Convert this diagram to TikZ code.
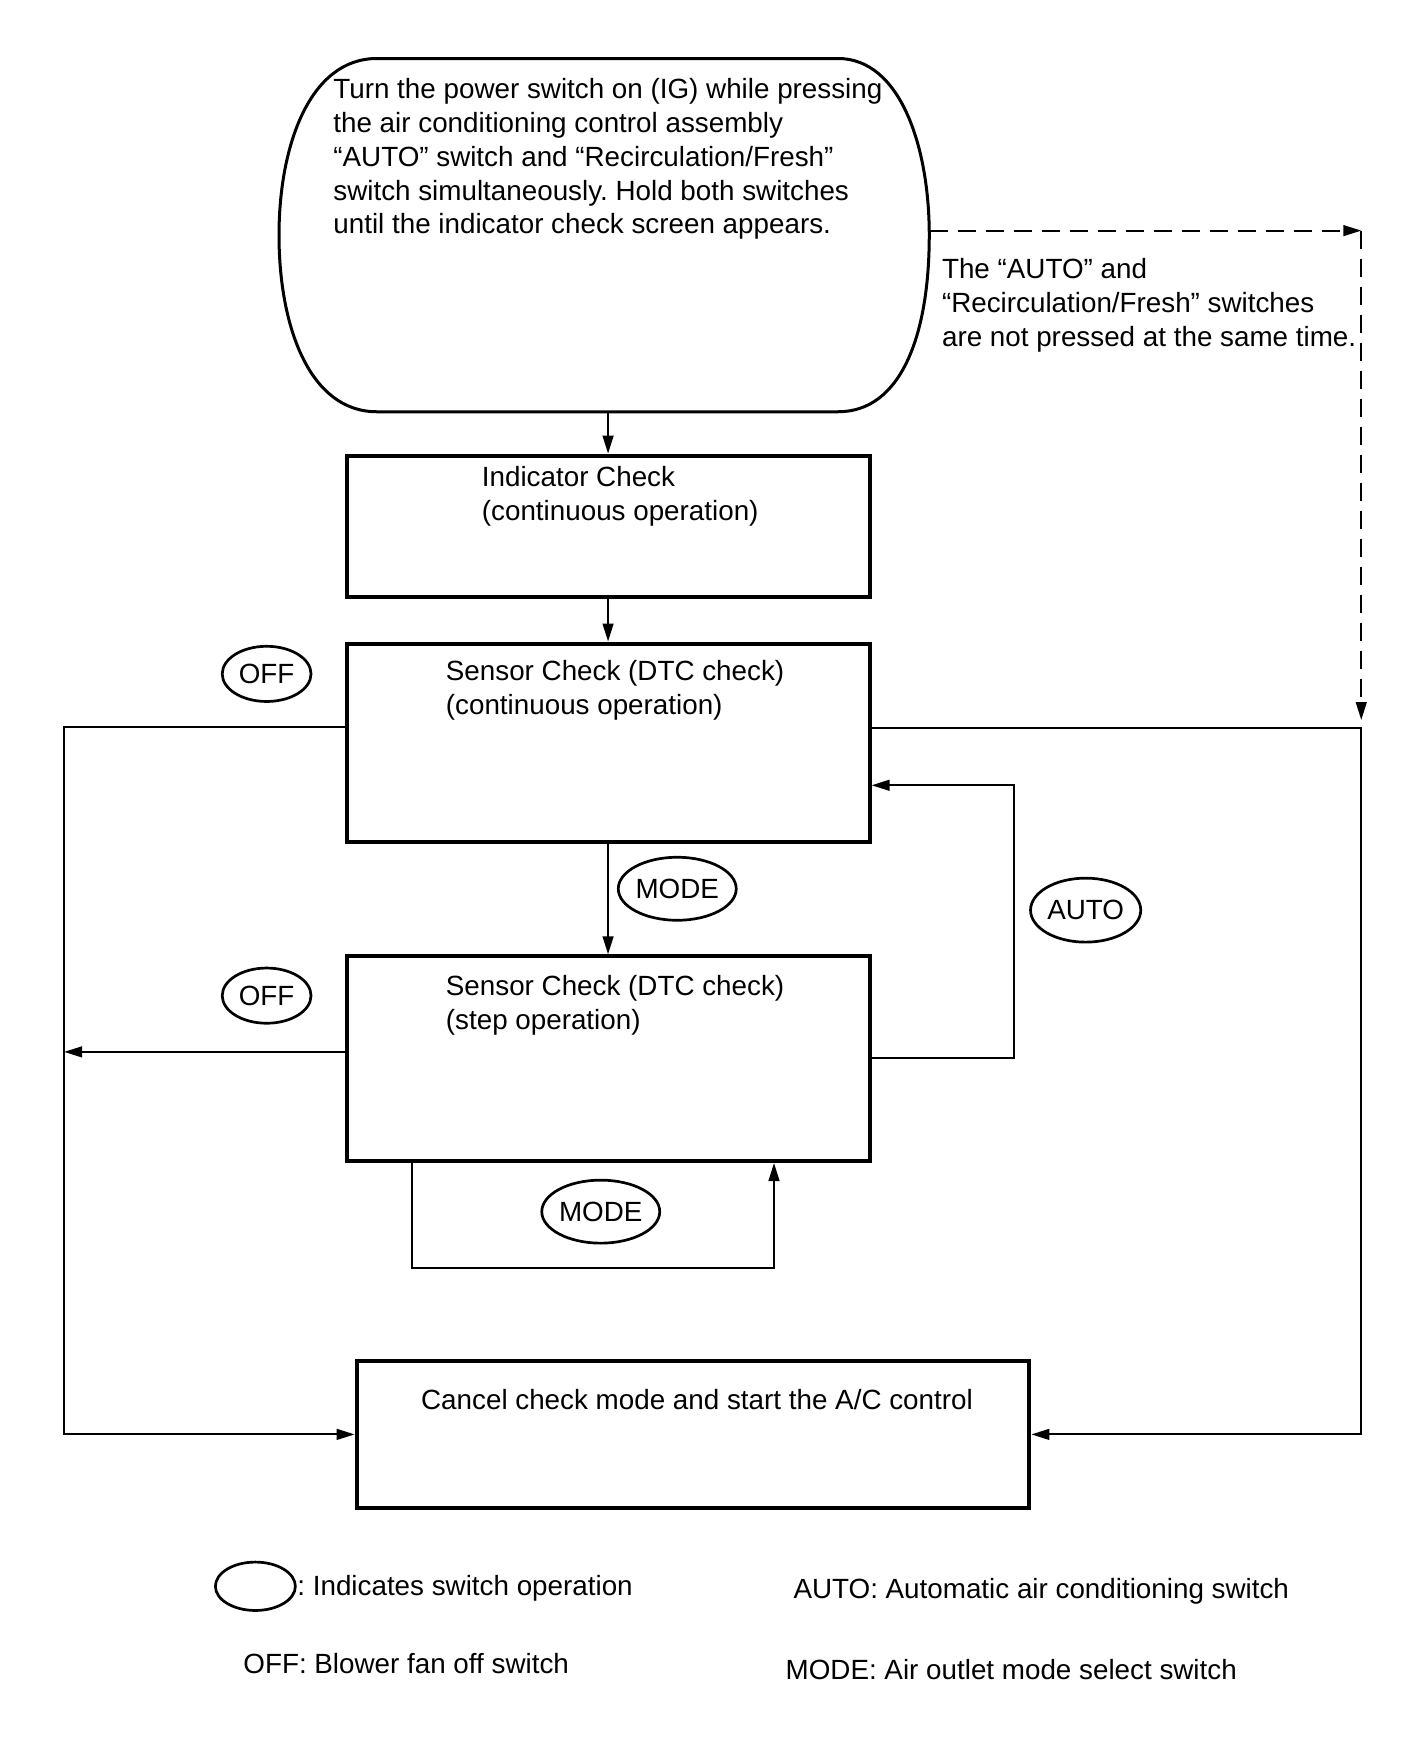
\documentclass[tikz,border=0pt]{standalone}
\usepackage{fontspec}
\setmainfont{Liberation Sans}
\usetikzlibrary{arrows.meta,fit,shapes.geometric,calc}
\frenchspacing
\begin{document}
\begin{tikzpicture}[x=0.5625pt,y=-0.5625pt,
  font=\fontsize{13.9}{16.9}\selectfont,
  box/.style={draw, line width=2pt, inner sep=0pt},
  txt/.style={anchor=north west, inner sep=0pt, align=left},
  sw/.style={draw, ellipse, line width=1.35pt, inner sep=0pt},
  conn/.style={line width=1pt},
  arr/.style={conn, -{Triangle[length=9pt,width=5.4pt]}},
  dashline/.style={dash pattern=on 9pt off 5pt}]
\useasboundingbox (0,0) rectangle (1265.8,1567.1);

% start shape
\node[inner sep=0pt, fit={(248,52) (826,366)}] (start) {};
\draw[line width=1.5pt] (335,52) -- (745,52)
  .. controls (800,52) and (826,130) .. (826,209)
  .. controls (826,300) and (800,366) .. (745,366)
  -- (335,366)
  .. controls (275,366) and (248,290) .. (248,209)
  .. controls (248,130) and (275,52) .. (335,52);
\node[txt] (starttxt) at (296,69.5) {Turn the power switch on (IG) while pressing\\the air conditioning control assembly\\“AUTO” switch and “Recirculation/Fresh”\\switch simultaneously. Hold both switches\\until the indicator check screen appears.};

% boxes
\node[box, fit={(308,405) (773,531)}] (ind) {};
\node[txt] (indtxt) at (428,414.5) {Indicator Check\\(continuous operation)};
\node[box, fit={(308,572) (773,748)}] (s1) {};
\node[txt] (s1txt) at (396,586.5) {Sensor Check (DTC check)\\(continuous operation)};
\node[box, fit={(308,850) (773,1032)}] (s2) {};
\node[txt] (s2txt) at (396,866.5) {Sensor Check (DTC check)\\(step operation)};
\node[box, fit={(317,1210) (915,1340)}] (can) {};
\node[txt] (cantxt) at (374,1234.5) {Cancel check mode and start the A/C control};

% note
\node[txt] (note) at (837,229.5) {The “AUTO” and\\“Recirculation/Fresh” switches\\are not pressed at the same time.};

% switch ellipses
\node[sw, minimum width=44.4pt, minimum height=27.6pt] (off1) at (237,599) {OFF};
\node[sw, minimum width=44.4pt, minimum height=27.6pt] (off2) at (237,885) {OFF};
\node[sw, minimum width=56.2pt, minimum height=31.5pt] (mode1) at (602,790) {MODE};
\node[sw, minimum width=55.1pt, minimum height=32pt] (auto) at (965,809) {AUTO};
\node[sw, minimum width=54.6pt, minimum height=31.5pt] (mode2) at (534,1077) {MODE};

% coordinates
\coordinate (L1) at (57,646);
\coordinate (L2) at (57,935);
\coordinate (R1) at (1210,647);
\coordinate (D1) at (1210,205);
\coordinate (A1) at (901,940);
\coordinate (A2) at (901,698);
\coordinate (M1) at (366,1127);
\coordinate (M2) at (688,1127);

% connectors
\draw[arr] (ind.north |- start.south) -- (ind.north);
\draw[arr] (ind.south) -- (s1.north);
\draw[arr] (s1.south) -- (s2.north);
\draw[arr] (s1.west |- L1) -- (L1) -- (L1 |- can.west) -- (can.west);
\draw[arr] (s2.west |- L2) -- (L2);
\draw[arr] (s1.east |- R1) -- (R1) -- (R1 |- can.east) -- (can.east);
\draw[arr, dashline] (start.east |- D1) -- (D1);
\draw[arr, dashline] (D1) -- ($(R1)+(0,-7)$);
\draw[arr] (s2.east |- A1) -- (A1) -- (A2) -- (s1.east |- A2);
\draw[arr] (s2.south -| M1) -- (M1) -- (M2) -- (s2.south -| M2);

% legend
\node[sw, minimum width=40pt, minimum height=24.2pt] (leg) at (227,1410) {};
\node[txt] (legtxt) at (264,1399.5) {: Indicates switch operation};
\node[txt] (legauto) at (705,1402.5) {AUTO: Automatic air conditioning switch};
\node[txt] (legoff) at (216,1469.5) {OFF: Blower fan off switch};
\node[txt] (legmode) at (698,1474.5) {MODE: Air outlet mode select switch};
\end{tikzpicture}
\end{document}
